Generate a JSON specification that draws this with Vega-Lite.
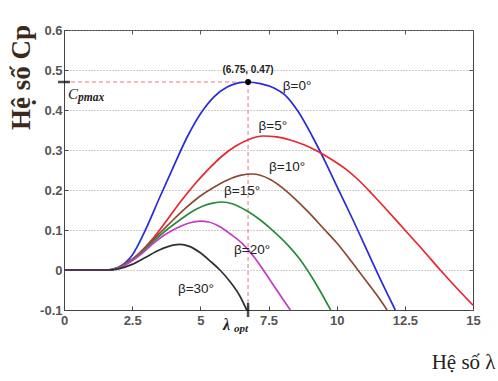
{
  "$schema": "https://vega.github.io/schema/vega-lite/v6.json",
  "width": 409,
  "height": 280,
  "autosize": {"type": "none"},
  "padding": {"left": 64, "top": 30, "right": 25, "bottom": 71},
  "background": "white",
  "config": {"view": {"stroke": "#444", "strokeWidth": 1}},
  "datasets": {
    "curves": [
      {"beta": 0, "lambda": 0, "cp": 0}, {"beta": 0, "lambda": 1.0, "cp": 0}, {"beta": 0, "lambda": 1.6, "cp": 0},
      {"beta": 0, "lambda": 2.0, "cp": 0.007}, {"beta": 0, "lambda": 2.5, "cp": 0.037}, {"beta": 0, "lambda": 3.0, "cp": 0.102},
      {"beta": 0, "lambda": 3.5, "cp": 0.18}, {"beta": 0, "lambda": 4.0, "cp": 0.256}, {"beta": 0, "lambda": 4.5, "cp": 0.33},
      {"beta": 0, "lambda": 5.0, "cp": 0.39}, {"beta": 0, "lambda": 5.5, "cp": 0.433}, {"beta": 0, "lambda": 6.0, "cp": 0.458},
      {"beta": 0, "lambda": 6.4, "cp": 0.468}, {"beta": 0, "lambda": 6.75, "cp": 0.47}, {"beta": 0, "lambda": 7.2, "cp": 0.466},
      {"beta": 0, "lambda": 7.7, "cp": 0.455}, {"beta": 0, "lambda": 8.1, "cp": 0.438}, {"beta": 0, "lambda": 8.6, "cp": 0.395},
      {"beta": 0, "lambda": 9.1, "cp": 0.335}, {"beta": 0, "lambda": 9.6, "cp": 0.268}, {"beta": 0, "lambda": 10.1, "cp": 0.196},
      {"beta": 0, "lambda": 10.6, "cp": 0.125}, {"beta": 0, "lambda": 11.2, "cp": 0.036}, {"beta": 0, "lambda": 11.6, "cp": -0.023},
      {"beta": 0, "lambda": 12.15, "cp": -0.1},

      {"beta": 5, "lambda": 0, "cp": 0}, {"beta": 5, "lambda": 1.0, "cp": 0}, {"beta": 5, "lambda": 1.6, "cp": 0},
      {"beta": 5, "lambda": 2.0, "cp": 0.006}, {"beta": 5, "lambda": 2.4, "cp": 0.022}, {"beta": 5, "lambda": 2.8, "cp": 0.045},
      {"beta": 5, "lambda": 3.3, "cp": 0.082}, {"beta": 5, "lambda": 3.8, "cp": 0.127}, {"beta": 5, "lambda": 4.3, "cp": 0.173},
      {"beta": 5, "lambda": 4.8, "cp": 0.215}, {"beta": 5, "lambda": 5.3, "cp": 0.252}, {"beta": 5, "lambda": 5.8, "cp": 0.285},
      {"beta": 5, "lambda": 6.3, "cp": 0.31}, {"beta": 5, "lambda": 6.8, "cp": 0.327}, {"beta": 5, "lambda": 7.3, "cp": 0.335},
      {"beta": 5, "lambda": 7.8, "cp": 0.333}, {"beta": 5, "lambda": 8.3, "cp": 0.325}, {"beta": 5, "lambda": 8.8, "cp": 0.313},
      {"beta": 5, "lambda": 9.3, "cp": 0.297}, {"beta": 5, "lambda": 9.8, "cp": 0.277}, {"beta": 5, "lambda": 10.3, "cp": 0.254},
      {"beta": 5, "lambda": 10.8, "cp": 0.225}, {"beta": 5, "lambda": 11.3, "cp": 0.19}, {"beta": 5, "lambda": 11.8, "cp": 0.153},
      {"beta": 5, "lambda": 12.5, "cp": 0.1}, {"beta": 5, "lambda": 13.2, "cp": 0.047}, {"beta": 5, "lambda": 13.8, "cp": 0.0},
      {"beta": 5, "lambda": 14.4, "cp": -0.045}, {"beta": 5, "lambda": 15, "cp": -0.088},

      {"beta": 10, "lambda": 0, "cp": 0}, {"beta": 10, "lambda": 1.0, "cp": 0}, {"beta": 10, "lambda": 1.6, "cp": 0},
      {"beta": 10, "lambda": 2.0, "cp": 0.006}, {"beta": 10, "lambda": 2.4, "cp": 0.021}, {"beta": 10, "lambda": 2.8, "cp": 0.043},
      {"beta": 10, "lambda": 3.3, "cp": 0.078}, {"beta": 10, "lambda": 3.63, "cp": 0.1}, {"beta": 10, "lambda": 4.0, "cp": 0.125},
      {"beta": 10, "lambda": 4.5, "cp": 0.157}, {"beta": 10, "lambda": 5.0, "cp": 0.185}, {"beta": 10, "lambda": 5.5, "cp": 0.207},
      {"beta": 10, "lambda": 6.0, "cp": 0.225}, {"beta": 10, "lambda": 6.5, "cp": 0.237}, {"beta": 10, "lambda": 6.9, "cp": 0.24},
      {"beta": 10, "lambda": 7.2, "cp": 0.237}, {"beta": 10, "lambda": 7.6, "cp": 0.225}, {"beta": 10, "lambda": 8.0, "cp": 0.206},
      {"beta": 10, "lambda": 8.5, "cp": 0.176}, {"beta": 10, "lambda": 9.0, "cp": 0.142}, {"beta": 10, "lambda": 9.5, "cp": 0.105},
      {"beta": 10, "lambda": 10.0, "cp": 0.068}, {"beta": 10, "lambda": 10.5, "cp": 0.025}, {"beta": 10, "lambda": 11.0, "cp": -0.02},
      {"beta": 10, "lambda": 11.5, "cp": -0.065}, {"beta": 10, "lambda": 11.85, "cp": -0.1},

      {"beta": 15, "lambda": 0, "cp": 0}, {"beta": 15, "lambda": 1.0, "cp": 0}, {"beta": 15, "lambda": 1.6, "cp": 0},
      {"beta": 15, "lambda": 2.0, "cp": 0.006}, {"beta": 15, "lambda": 2.4, "cp": 0.02}, {"beta": 15, "lambda": 2.8, "cp": 0.041},
      {"beta": 15, "lambda": 3.3, "cp": 0.073}, {"beta": 15, "lambda": 3.76, "cp": 0.1}, {"beta": 15, "lambda": 4.25, "cp": 0.125},
      {"beta": 15, "lambda": 4.7, "cp": 0.146}, {"beta": 15, "lambda": 5.1, "cp": 0.16}, {"beta": 15, "lambda": 5.5, "cp": 0.168},
      {"beta": 15, "lambda": 5.8, "cp": 0.17}, {"beta": 15, "lambda": 6.2, "cp": 0.165}, {"beta": 15, "lambda": 6.7, "cp": 0.148},
      {"beta": 15, "lambda": 7.2, "cp": 0.125}, {"beta": 15, "lambda": 7.67, "cp": 0.098}, {"beta": 15, "lambda": 8.2, "cp": 0.063},
      {"beta": 15, "lambda": 8.65, "cp": 0.027}, {"beta": 15, "lambda": 9.2, "cp": -0.03}, {"beta": 15, "lambda": 9.78, "cp": -0.1},

      {"beta": 20, "lambda": 0, "cp": 0}, {"beta": 20, "lambda": 1.0, "cp": 0}, {"beta": 20, "lambda": 1.6, "cp": 0},
      {"beta": 20, "lambda": 2.0, "cp": 0.005}, {"beta": 20, "lambda": 2.4, "cp": 0.019}, {"beta": 20, "lambda": 2.8, "cp": 0.038},
      {"beta": 20, "lambda": 3.3, "cp": 0.068}, {"beta": 20, "lambda": 3.7, "cp": 0.088}, {"beta": 20, "lambda": 4.0, "cp": 0.1},
      {"beta": 20, "lambda": 4.3, "cp": 0.11}, {"beta": 20, "lambda": 4.62, "cp": 0.118}, {"beta": 20, "lambda": 5.0, "cp": 0.122},
      {"beta": 20, "lambda": 5.3, "cp": 0.12}, {"beta": 20, "lambda": 5.72, "cp": 0.108}, {"beta": 20, "lambda": 6.1, "cp": 0.09},
      {"beta": 20, "lambda": 6.57, "cp": 0.064}, {"beta": 20, "lambda": 7.0, "cp": 0.03}, {"beta": 20, "lambda": 7.31, "cp": 0.0},
      {"beta": 20, "lambda": 7.8, "cp": -0.05}, {"beta": 20, "lambda": 8.3, "cp": -0.1},

      {"beta": 30, "lambda": 0, "cp": 0}, {"beta": 30, "lambda": 1.0, "cp": 0}, {"beta": 30, "lambda": 1.6, "cp": 0},
      {"beta": 30, "lambda": 2.0, "cp": 0.003}, {"beta": 30, "lambda": 2.5, "cp": 0.014}, {"beta": 30, "lambda": 3.0, "cp": 0.032},
      {"beta": 30, "lambda": 3.5, "cp": 0.05}, {"beta": 30, "lambda": 4.0, "cp": 0.062}, {"beta": 30, "lambda": 4.25, "cp": 0.064},
      {"beta": 30, "lambda": 4.6, "cp": 0.059}, {"beta": 30, "lambda": 5.0, "cp": 0.043}, {"beta": 30, "lambda": 5.4, "cp": 0.02},
      {"beta": 30, "lambda": 5.72, "cp": 0.0}, {"beta": 30, "lambda": 6.1, "cp": -0.03}, {"beta": 30, "lambda": 6.45, "cp": -0.065},
      {"beta": 30, "lambda": 6.7, "cp": -0.1}
    ],
    "refs": [
      {"x": 0, "x2": 6.75, "y": 0.47, "y2": 0.47},
      {"x": 6.75, "x2": 6.75, "y": -0.1, "y2": 0.47}
    ],
    "betaLabels": [
      {"lambda": 8.55, "cp": 0.46, "label": "β=0°"},
      {"lambda": 7.66, "cp": 0.36, "label": "β=5°"},
      {"lambda": 8.18, "cp": 0.258, "label": "β=10°"},
      {"lambda": 6.53, "cp": 0.198, "label": "β=15°"},
      {"lambda": 6.9, "cp": 0.05, "label": "β=20°"},
      {"lambda": 4.84, "cp": -0.047, "label": "β=30°"}
    ]
  },
  "layer": [
    {
      "data": {"name": "refs"},
      "mark": {"type": "rule", "color": "#e07a80", "strokeDash": [4, 3], "strokeWidth": 1},
      "encoding": {
        "x": {"field": "x", "type": "quantitative", "scale": {"domain": [0, 15], "nice": false, "zero": false},
          "axis": {"orient": "top", "values": [0, 2.5, 5, 7.5, 10, 12.5, 15], "labels": false, "title": null, "grid": false, "domain": false, "ticks": true, "tickSize": -4, "tickColor": "#555"}},
        "x2": {"field": "x2"},
        "y": {"field": "y", "type": "quantitative", "scale": {"domain": [-0.1, 0.6], "nice": false, "zero": false},
          "axis": {"orient": "right", "values": [-0.1, 0, 0.1, 0.2, 0.3, 0.4, 0.5, 0.6], "labels": false, "title": null, "grid": false, "domain": false, "ticks": true, "tickSize": -4, "tickColor": "#555"}},
        "y2": {"field": "y2"}
      }
    },
    {
      "data": {"name": "curves"},
      "mark": {"type": "line", "interpolate": "monotone", "strokeWidth": 1.7},
      "encoding": {
        "x": {"field": "lambda", "type": "quantitative",
          "axis": {"orient": "bottom", "values": [0, 2.5, 5, 7.5, 10, 12.5, 15], "labelExpr": "format(datum.value, '.1~f')", "labelFlush": false,
            "grid": false, "domainColor": "#444", "tickColor": "#444", "tickSize": -4, "labelPadding": 8,
            "labelFont": "Liberation Sans", "labelFontSize": 13, "labelFontWeight": "bold", "labelColor": "#555",
            "title": "Hệ số λ", "titleFont": "Liberation Serif", "titleFontSize": 21, "titleFontWeight": "normal", "titleColor": "#222",
            "titleX": 431, "titleY": 58, "titleAlign": "right", "titleBaseline": "alphabetic", "titleAnchor": null}},
        "y": {"field": "cp", "type": "quantitative",
          "axis": {"orient": "left", "values": [-0.1, 0, 0.1, 0.2, 0.3, 0.4, 0.5, 0.6], "labelExpr": "replace(format(datum.value, '.1~f'), '−', '-')", "labelFlush": false,
            "grid": true, "gridDash": [1, 2], "gridColor": "#999", "gridWidth": 1,
            "domainColor": "#444", "tickColor": "#444", "tickSize": -4, "labelPadding": 6,
            "labelFont": "Liberation Sans", "labelFontSize": 13, "labelFontWeight": "bold", "labelColor": "#555",
            "title": "Hệ số Cp", "titleFont": "Liberation Serif", "titleFontSize": 27, "titleFontWeight": "bold", "titleColor": "#3b2a1a",
            "titleAngle": -90, "titleX": -35, "titleY": 47, "titleAlign": "center", "titleBaseline": "alphabetic", "titleAnchor": null}},
        "color": {"field": "beta", "type": "nominal", "legend": null,
          "scale": {"domain": [0, 5, 10, 15, 20, 30], "range": ["#2a2ad8", "#e8262e", "#8a4a32", "#2a8a3a", "#c43cc4", "#303030"]}}
      }
    },
    {
      "data": {"values": [{"lambda": 6.75, "cp": 0.47}]},
      "mark": {"type": "point", "filled": true, "color": "#000", "size": 36, "opacity": 1},
      "encoding": {
        "x": {"field": "lambda", "type": "quantitative", "axis": null},
        "y": {"field": "cp", "type": "quantitative", "axis": null}
      }
    },
    {
      "data": {"values": [{"lambda": 0, "cp": 0.47}]},
      "mark": {"type": "tick", "orient": "horizontal", "color": "#000", "size": 12, "thickness": 2.5},
      "encoding": {
        "x": {"field": "lambda", "type": "quantitative", "axis": null},
        "y": {"field": "cp", "type": "quantitative", "axis": null}
      }
    },
    {
      "data": {"values": [{"lambda": 6.75, "cp": -0.1}]},
      "mark": {"type": "tick", "orient": "vertical", "color": "#000", "size": 14, "thickness": 2.5},
      "encoding": {
        "x": {"field": "lambda", "type": "quantitative", "axis": null},
        "y": {"field": "cp", "type": "quantitative", "axis": null}
      }
    },
    {
      "data": {"name": "betaLabels"},
      "mark": {"type": "text", "font": "Liberation Sans", "fontSize": 13.5, "color": "#222", "align": "center", "baseline": "middle"},
      "encoding": {
        "x": {"field": "lambda", "type": "quantitative", "axis": null},
        "y": {"field": "cp", "type": "quantitative", "axis": null},
        "text": {"field": "label"}
      }
    },
    {
      "data": {"values": [{"lambda": 6.75, "cp": 0.47, "label": "(6.75, 0.47)"}]},
      "mark": {"type": "text", "font": "Liberation Sans", "fontSize": 10, "fontWeight": "bold", "color": "#222", "align": "center", "baseline": "middle", "dy": -12},
      "encoding": {
        "x": {"field": "lambda", "type": "quantitative", "axis": null},
        "y": {"field": "cp", "type": "quantitative", "axis": null},
        "text": {"field": "label"}
      }
    },
    {
      "data": {"values": [{"lambda": 0, "cp": 0.4275, "label": "C"}]},
      "mark": {"type": "text", "font": "Liberation Serif", "fontSize": 15, "fontStyle": "italic", "color": "#222", "align": "left", "baseline": "alphabetic", "dx": 4},
      "encoding": {
        "x": {"field": "lambda", "type": "quantitative", "axis": null},
        "y": {"field": "cp", "type": "quantitative", "axis": null},
        "text": {"field": "label"}
      }
    },
    {
      "data": {"values": [{"lambda": 0, "cp": 0.4275, "label": "pmax"}]},
      "mark": {"type": "text", "font": "Liberation Serif", "fontSize": 11.5, "fontStyle": "italic", "fontWeight": "bold", "color": "#222", "align": "left", "baseline": "alphabetic", "dx": 14, "dy": 2},
      "encoding": {
        "x": {"field": "lambda", "type": "quantitative", "axis": null},
        "y": {"field": "cp", "type": "quantitative", "axis": null},
        "text": {"field": "label"}
      }
    },
    {
      "data": {"values": [{"lambda": 6.75, "cp": -0.1, "label": "λ"}]},
      "mark": {"type": "text", "font": "Liberation Serif", "fontSize": 16, "fontStyle": "italic", "fontWeight": "bold", "color": "#222", "align": "left", "baseline": "alphabetic", "dx": -25, "dy": 20},
      "encoding": {
        "x": {"field": "lambda", "type": "quantitative", "axis": null},
        "y": {"field": "cp", "type": "quantitative", "axis": null},
        "text": {"field": "label"}
      }
    },
    {
      "data": {"values": [{"lambda": 6.75, "cp": -0.1, "label": "opt"}]},
      "mark": {"type": "text", "font": "Liberation Serif", "fontSize": 11, "fontStyle": "italic", "fontWeight": "bold", "color": "#222", "align": "left", "baseline": "alphabetic", "dx": -14, "dy": 22},
      "encoding": {
        "x": {"field": "lambda", "type": "quantitative", "axis": null},
        "y": {"field": "cp", "type": "quantitative", "axis": null},
        "text": {"field": "label"}
      }
    }
  ],
  "resolve": {"axis": {"x": "independent", "y": "independent"}}
}
